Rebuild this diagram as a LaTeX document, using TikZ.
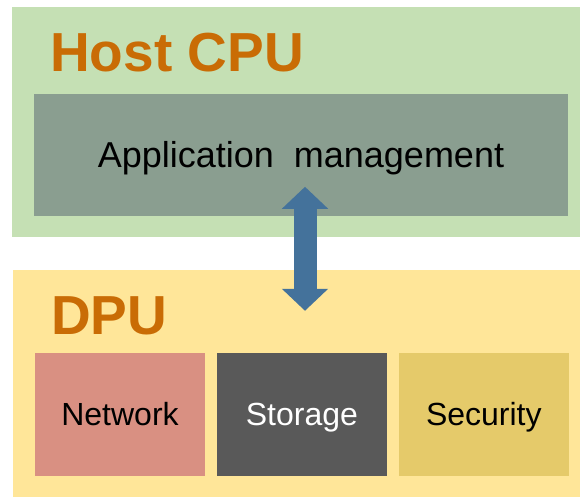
\documentclass[tikz,border=0pt]{standalone}
\usepackage{fontspec}
\setmainfont{Liberation Sans}
\usetikzlibrary{positioning, arrows.meta}
\definecolor{hostgreen}{HTML}{C5E0B4}
\definecolor{appgray}{HTML}{8A9E90}
\definecolor{dpuyellow}{HTML}{FFE699}
\definecolor{netred}{HTML}{D99082}
\definecolor{storgray}{HTML}{595959}
\definecolor{secyellow}{HTML}{E5CA6A}
\definecolor{linkblue}{HTML}{44729B}
\definecolor{titleorange}{HTML}{C96C05}
\tikzset{panel/.style={rectangle, inner sep=0pt, draw=none},
         module/.style={panel, minimum width=170pt, minimum height=123pt,
                        text height=23pt, text depth=0pt,
                        font=\fontsize{32}{36}\selectfont},
         title/.style={anchor=base west, inner sep=0pt, text=titleorange,
                       font=\fontsize{55}{60}\selectfont\bfseries},
         biglink/.style={draw=linkblue, line width=23pt,
                         {Triangle[width=45pt,length=22pt]}-{Triangle[width=45pt,length=22pt]}}}

\begin{document}
\begin{tikzpicture}[x=1pt, y=1pt]
        \useasboundingbox (0,0) rectangle (580,497);
        % host side
        \node[panel, fill=hostgreen, minimum width=568pt, minimum height=230pt] (host) at (296,375) {};
        \node[title] (hosttitle) at (50,425) {Host CPU};
        \node[panel, fill=appgray, minimum width=534pt, minimum height=122pt,
              text height=26pt, text depth=0pt,
              font=\fontsize{36}{40}\selectfont] (app) at (301,342) {Application\ \ management};

        % dpu side
        \node[panel, fill=dpuyellow, minimum width=567pt, minimum height=227pt] (dpu) at (296.5,113.5) {};
        \node[title] (dputitle) at (51,162) {DPU};
        \node[module, fill=netred] (network) at (120,82.5) {Network};
        \node[module, fill=storgray, text=white, right=11.5pt of network] (storage) {Storage};
        \node[module, fill=secyellow, right=11.5pt of storage] (security) {Security};

        % link between them
        \coordinate (linktop) at ([yshift=-93pt]app.north -| 305,0);
        \coordinate (linkbot) at ([yshift=42pt]storage.north -| 305,0);
        \draw[biglink] (linkbot) -- (linktop);
    \end{tikzpicture}
\end{document}
